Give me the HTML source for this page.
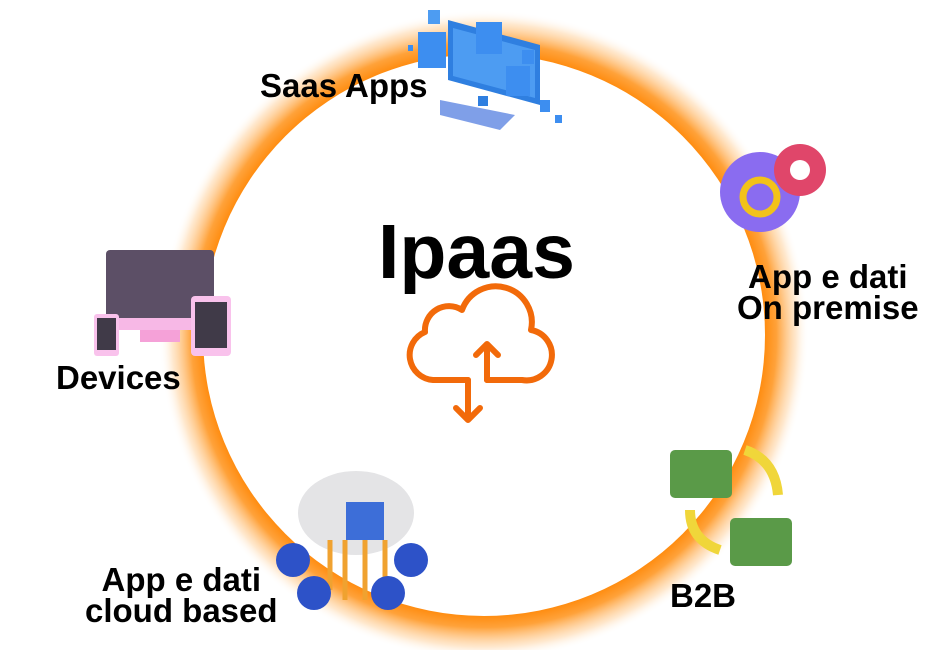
<!DOCTYPE html>
<html><head><meta charset="utf-8"><style>
body{margin:0;width:950px;height:650px;background:#fff;overflow:hidden;position:relative;font-family:"Liberation Sans",sans-serif}
.l{position:absolute;font-weight:bold;font-size:33px;color:#000;line-height:31px;text-align:center;white-space:nowrap}
</style></head><body>
<svg width="950" height="650" style="position:absolute;left:0;top:0">
<defs>
<radialGradient id="g" cx="484" cy="335" r="325" gradientUnits="userSpaceOnUse">
<stop offset="0.85" stop-color="#ff8400"/>
<stop offset="0.9" stop-color="#ffa23a"/>
<stop offset="0.96" stop-color="#ffd9ad" stop-opacity="0.6"/>
<stop offset="1" stop-color="#fff" stop-opacity="0"/>
</radialGradient>
</defs>
<circle cx="484" cy="335" r="325" fill="url(#g)"/>
<circle cx="484" cy="335" r="281" fill="#fff"/>
<!-- cloud icon -->
<g fill="none" stroke="#f26a0a" stroke-width="6" stroke-linejoin="round" stroke-linecap="round">
<path d="M468 380 H433 A25 25 0 0 1 425 332 A24 24 0 0 1 462 310 A36 36 0 0 1 531 330 A25 25 0 0 1 522 380 H487"/>
<path d="M487 380 V345 M476 355 L487 344 L498 355"/>
<path d="M468 380 V420 M456 408 L468 420 L480 408"/>
</g>
<!-- saas apps icon -->
<g>
<path d="M448 20 L540 45 L540 105 L448 80 Z" fill="#2f7fe0"/>
<path d="M453 28 L535 50 L535 98 L453 76 Z" fill="#4d9cf2"/>
<rect x="478" y="96" width="10" height="10" fill="#2f7fe0"/>
<path d="M440 100 L515 115 L500 130 L440 115 Z" fill="#7f9fe8"/>
<rect x="428" y="10" width="12" height="14" fill="#4d9cf2"/>
<rect x="418" y="32" width="28" height="36" fill="#3d8ef0"/>
<rect x="476" y="22" width="26" height="32" fill="#3d8ef0"/>
<rect x="506" y="66" width="24" height="30" fill="#3d8ef0"/>
<rect x="522" y="50" width="12" height="14" fill="#3d8ef0"/>
<rect x="540" y="100" width="10" height="12" fill="#3d8ef0"/>
<rect x="555" y="115" width="7" height="8" fill="#3d8ef0"/>
<rect x="408" y="45" width="5" height="6" fill="#3d8ef0"/>
</g>
<!-- gears -->
<circle cx="760" cy="192" r="40" fill="#8a6cf0"/>
<circle cx="800" cy="170" r="26" fill="#e0466a"/>
<circle cx="800" cy="170" r="10" fill="#fff"/>
<circle cx="760" cy="197" r="17" fill="none" stroke="#f2c21a" stroke-width="7"/>
<!-- devices -->
<rect x="106" y="250" width="108" height="72" rx="4" fill="#5c4f66"/>
<rect x="106" y="318" width="108" height="12" fill="#f7b8e6"/>
<rect x="140" y="330" width="40" height="12" fill="#f5a1d8"/>
<rect x="191" y="296" width="40" height="60" rx="4" fill="#f9c2ec"/>
<rect x="195" y="302" width="32" height="46" fill="#403a48"/>
<rect x="94" y="314" width="25" height="42" rx="3" fill="#f9c2ec"/>
<rect x="97" y="318" width="19" height="32" fill="#403a48"/>
<!-- cloud based -->
<ellipse cx="356" cy="513" rx="58" ry="42" fill="#e4e4e6"/>
<rect x="346" y="502" width="38" height="38" fill="#3d6ed8"/>
<g stroke="#f0a230" stroke-width="5" fill="none"><path d="M330 540 V590 M345 540 V600 M365 540 V600 M385 540 V580"/></g>
<circle cx="293" cy="560" r="17" fill="#2d52c8"/>
<circle cx="411" cy="560" r="17" fill="#2d52c8"/>
<circle cx="314" cy="593" r="17" fill="#2d52c8"/>
<circle cx="388" cy="593" r="17" fill="#2d52c8"/>
<!-- b2b -->
<rect x="670" y="450" width="62" height="48" rx="5" fill="#5a9a48"/>
<rect x="730" y="518" width="62" height="48" rx="5" fill="#5a9a48"/>
<path d="M745 450 Q775 460 778 495" stroke="#f0d63a" stroke-width="10" fill="none"/>
<path d="M690 510 Q690 540 720 550" stroke="#f0d63a" stroke-width="10" fill="none"/>
</svg>
<div class="l" style="left:378px;top:207px;font-size:77px;line-height:90px">Ipaas</div>
<div class="l" style="left:260px;top:70px">Saas Apps</div>
<div class="l" style="left:56px;top:362px">Devices</div>
<div class="l" style="left:737px;top:261px">App e dati<br>On premise</div>
<div class="l" style="left:85px;top:564px">App e dati<br>cloud based</div>
<div class="l" style="left:670px;top:580px">B2B</div>
</body></html>
